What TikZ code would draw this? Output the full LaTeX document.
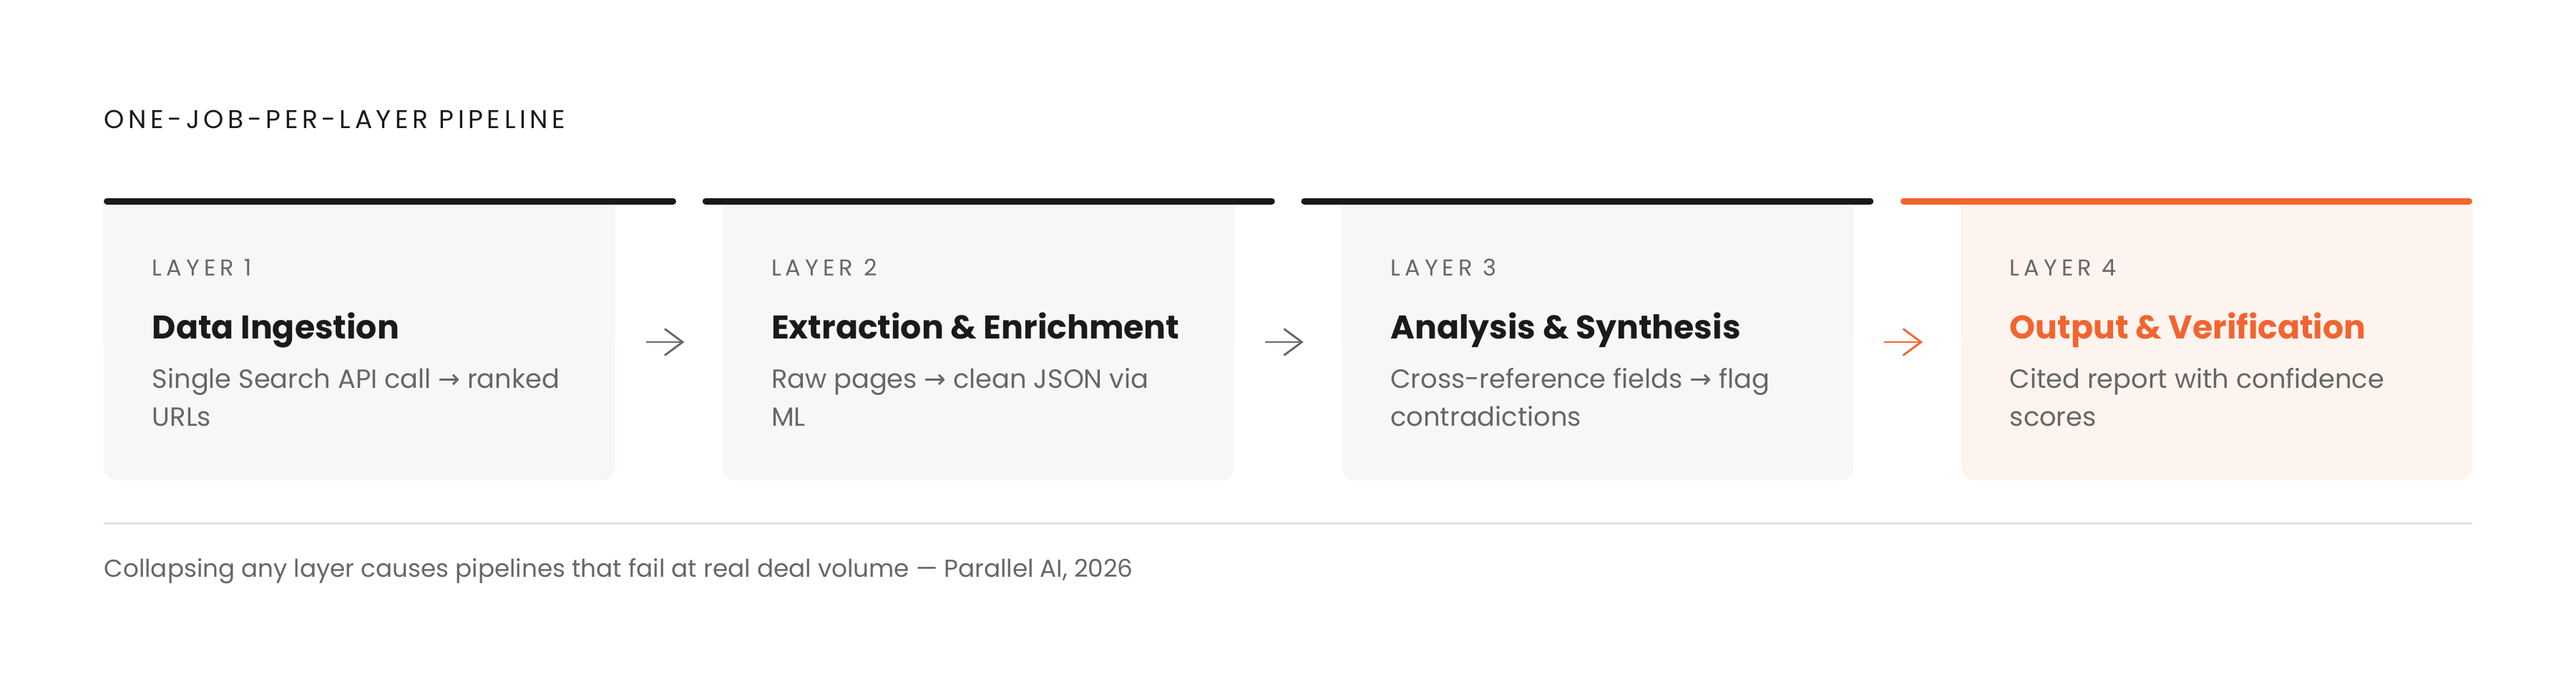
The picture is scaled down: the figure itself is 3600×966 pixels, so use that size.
\documentclass[tikz,border=0pt]{standalone}
\usepackage{fontspec}
\setmainfont{Poppins}
\newfontfamily\symfont{DejaVu Sans}
\newfontfamily\trackfont[LetterSpace=15.5]{Poppins}
\newfontfamily\smalltrack[LetterSpace=19]{Poppins}
\usetikzlibrary{arrows.meta,calc}
\definecolor{ink}{HTML}{1A1A1A}
\definecolor{muted}{HTML}{666666}
\definecolor{cardbg}{HTML}{F8F7F5}
\definecolor{hotbg}{HTML}{FDF4EF}
\definecolor{accent}{HTML}{F26430}
\definecolor{rule}{HTML}{E3E3E3}
\newcommand{\rarr}{{\symfont\char"2192}}
\begin{document}
\begin{tikzpicture}[x=0.25pt,y=-0.25pt,
  cardbox/.style={rectangle, draw=none, inner sep=0pt, minimum width=178.5pt, minimum height=96.5pt, rounded corners=4.5pt},
  topbar/.style={line width=2.25pt, line cap=round, ink},
  layerlab/.style={anchor=base west, inner sep=0pt, text=muted, font=\smalltrack\fontsize{8pt}{10pt}\selectfont},
  cardtitle/.style={anchor=base west, inner sep=0pt, text=ink, font=\bfseries\fontsize{11.45pt}{14pt}\selectfont},
  cardbody/.style={anchor=base west, inner sep=0pt, text=muted, align=left, font=\fontsize{9.2pt}{13.25pt}\selectfont},
  flow/.style={line width=0.7pt, muted, -{Straight Barb[length=6.25pt,width=9.25pt,line width=0.7pt]}, shorten <=10.7pt, shorten >=13.3pt}
]
\useasboundingbox (0,0) rectangle (3600,966);
\fill[white] (0,0) rectangle (3600,966);

% heading
\node[anchor=base west, inner sep=0pt, text=ink, font=\trackfont\fontsize{9pt}{11pt}\selectfont] (head) at (145,179) {ONE-JOB-PER-LAYER PIPELINE};

% cards
\node[cardbox, fill=cardbg] (c1) at (502,478) {};
\node[cardbox, fill=cardbg] (c2) at (1367.3,478) {};
\node[cardbox, fill=cardbg] (c3) at (2232.7,478) {};
\node[cardbox, fill=hotbg] (c4) at (3098,478) {};
\fill[cardbg] (c1.north west) rectangle (c1.east);
\fill[cardbg] (c2.north west) rectangle (c2.east);
\fill[cardbg] (c3.north west) rectangle (c3.east);
\fill[hotbg] (c4.north west) rectangle (c4.east);

% top bars
\draw[topbar] (149.5,281) -- (940.5,281);
\draw[topbar] (986.2,281) -- (1777.2,281);
\draw[topbar] (1822.8,281) -- (2613.8,281);
\draw[topbar, accent] (2660.5,281) -- (3450.5,281);

% card texts (body anchor = baseline of its last line)
\node[layerlab] (l1) at (212,385.5) {LAYER 1};
\node[cardtitle] (t1) at (212,473) {Data Ingestion};
\node[cardbody] (b1) at (212,595) {Single Search API call \rarr{} ranked\\URLs};

\node[layerlab] (l2) at (1077.3,385.5) {LAYER 2};
\node[cardtitle] (t2) at (1077.3,473) {Extraction \& Enrichment};
\node[cardbody] (b2) at (1077.3,595) {Raw pages \rarr{} clean JSON via\\ML};

\node[layerlab] (l3) at (1942.7,385.5) {LAYER 3};
\node[cardtitle] (t3) at (1942.7,473) {Analysis \& Synthesis};
\node[cardbody] (b3) at (1942.7,595) {Cross-reference fields \rarr{} flag\\contradictions};

\node[layerlab] (l4) at (2808,385.5) {LAYER 4};
\node[cardtitle, text=accent] (t4) at (2808,473) {Output \& Verification};
\node[cardbody] (b4) at (2808,595) {Cited report with confidence\\scores};

% connectors
\draw[flow] (c1) -- (c2);
\draw[flow] (c2) -- (c3);
\draw[flow, accent] (c3) -- (c4);

% footer
\coordinate (sepL) at (145,731.5);
\coordinate (sepR) at (3455,731.5);
\draw[rule, line width=0.75pt] (sepL) -- (sepR);
\node[anchor=base west, inner sep=0pt, text=muted, font=\fontsize{8.55pt}{11pt}\selectfont] (foot) at (145,806) {Collapsing any layer causes pipelines that fail at real deal volume — Parallel AI, 2026};
\end{tikzpicture}
\end{document}
